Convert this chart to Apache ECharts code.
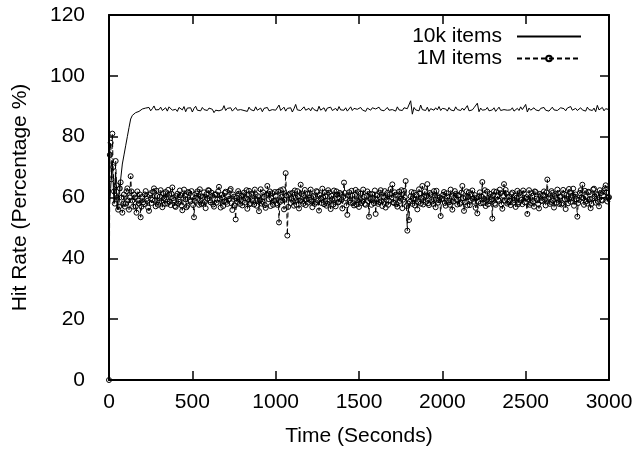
<!DOCTYPE html>
<html>
<head>
<meta charset="utf-8">
<script src="https://cdn.jsdelivr.net/npm/echarts@6/dist/echarts.min.js"></script>
<style>
  html, body { margin: 0; padding: 0; background: #fff; }
  #chart { width: 637px; height: 452px; }
</style>
</head>
<body>
<div id="chart"></div>
<script>
// sample steps, seconds
var step10k = 10;
var step1m = 5;

// 10k items hit rate, one value per 10 s, t = 0 .. 3000
var hit10k = [
  55, 63, 72, 58, 68, 56, 62, 66, 71, 74, 77, 80, 83, 85.8, 87, 87.4, 87.9, 87.6, 88.3, 88.6,
  89.1, 88.7, 89.4, 88.9, 89.6, 88.5, 89.2, 90.1, 88.8, 89.3, 88.9, 89.7, 88.6, 89.0, 89.5, 88.4, 89.8, 90.3, 88.7, 89.2,
  89.0, 88.3, 89.6, 89.1, 88.8, 89.9, 88.2, 89.4, 88.9, 89.5, 88.1, 89.3, 90.0, 88.7, 89.1, 88.5, 89.6, 88.9, 89.2, 88.6,
  89.4, 88.8, 89.0, 87.9, 88.7, 89.3, 88.5, 89.1, 88.9, 90.2, 88.6, 89.3, 88.8, 89.5, 88.4, 89.0, 89.6, 88.7, 89.2, 88.9,
  89.5, 88.6, 89.1, 88.3, 89.7, 88.9, 89.2, 88.5, 89.8, 88.7, 89.0, 89.4, 88.2, 89.3, 88.8, 89.6, 88.5, 89.1, 88.9, 89.4,
  88.7, 89.2, 90.4, 88.6, 89.0, 89.7, 88.4, 89.3, 88.9, 89.5, 88.1, 89.2, 90.6, 88.8, 89.4, 88.6, 89.1, 89.8, 88.7, 89.0,
  89.3, 88.5, 89.6, 88.9, 89.2, 88.4, 90.0, 88.7, 89.1, 89.5, 88.3, 89.4, 88.8, 89.7, 88.6, 89.0, 89.3, 88.5, 89.9, 88.8,
  89.2, 88.7, 89.5, 88.4, 89.1, 89.8, 88.6, 89.3, 88.9, 89.0, 88.5, 89.6, 88.8, 89.2, 88.3, 89.4, 89.0, 88.7, 89.5, 88.9,
  89.1, 88.6, 89.7, 88.8, 89.3, 88.5, 89.0, 89.6, 88.7, 89.2, 88.9, 89.4, 88.4, 89.8, 88.8, 89.1, 88.6, 89.5, 88.9, 89.2,
  88.7, 91.8, 87.4, 89.6, 88.8, 89.3, 88.5, 90.4, 88.9, 89.1, 88.6, 89.7, 88.3, 89.2, 89.0, 88.7, 89.5, 88.8, 89.9, 88.6,
  89.3, 88.9, 89.1, 88.4, 89.6, 88.8, 89.2, 88.5, 89.8, 88.9, 89.0, 88.6, 89.4, 88.7, 89.3, 90.2, 88.5, 89.1, 88.8, 89.5,
  88.9, 91.0, 88.2, 89.4, 88.7, 89.2, 88.9, 89.6, 88.5, 89.1, 88.8, 89.5, 88.3, 89.0, 89.7, 88.6, 89.2, 88.9, 89.4, 88.7,
  89.1, 88.8, 89.5, 88.4, 89.0, 89.3, 88.6, 89.8, 88.9, 89.2, 90.6, 88.1, 89.4, 88.7, 89.0, 89.5, 88.8, 89.1, 88.5, 89.3,
  88.9, 89.6, 88.7, 89.2, 88.4, 89.0, 89.7, 88.8, 89.3, 88.6, 89.1, 89.5, 88.9, 89.2, 88.5, 89.4, 88.8, 89.9, 88.7, 89.1,
  89.3, 88.6, 89.0, 89.5, 88.8, 89.2, 88.4, 89.7, 88.9, 89.1, 88.6, 89.4, 88.2, 90.3, 88.8, 89.0, 89.6, 88.5, 89.2, 88.7,
  88.9
];

// 1M items hit rate, one value per 5 s, t = 0 .. 3000 (rows of 200 s)
var hit1m = [
  0, 74, 78, 66, 81, 70, 62, 58, 72, 64, 60, 56, 57, 63, 65, 60, 55, 58, 61, 57,
  58, 62, 63, 59, 56, 60, 67, 62, 59, 57, 61, 60, 57, 55, 62, 59, 58, 61, 53.5, 57,
  60.2, 58.4, 57.8, 61.0, 62.1, 59.5, 58.9, 56.7, 55.6, 60.8, 61.4, 58.2, 59.2, 61.9, 63.0, 59.0, 57.1, 62.2, 60.5, 57.6,
  58.3, 60.3, 62.4, 58.8, 56.8, 61.4, 59.7, 57.9, 61.8, 60.1, 58.0, 62.5, 60.9, 58.6, 57.5, 61.2, 63.3, 59.8, 59.1, 57.2,
  56.9, 60.5, 61.2, 58.0, 58.6, 62.3, 60.7, 57.4, 55.8, 59.9, 62.6, 60.6, 59.4, 56.8, 57.3, 61.8, 61.5, 59.2, 58.8, 62.1,
  60.1, 57.5, 53.5, 58.9, 59.9, 61.3, 62.0, 59.6, 57.6, 62.7, 60.4, 57.8, 58.2, 60.2, 61.7, 58.5, 56.5, 61.1, 59.6, 62.4,
  62.3, 59.1, 58.4, 61.6, 60.6, 57.7, 57.0, 60.9, 61.1, 58.3, 59.3, 62.0, 63.5, 59.6, 56.7, 60.8, 60.0, 57.2, 58.7, 61.5,
  61.9, 58.6, 57.9, 60.4, 59.5, 62.3, 62.8, 58.1, 55.9, 61.0, 60.3, 57.4, 52.8, 59.8, 58.5, 62.1, 61.3, 57.9, 59.0, 60.6,
  57.4, 60.7, 61.6, 58.3, 59.8, 62.4, 56.3, 59.5, 62.2, 57.8, 58.1, 61.2, 60.8, 58.9, 57.7, 62.6, 61.0, 57.3, 59.2, 60.4,
  55.5, 59.1, 62.7, 58.0, 58.6, 61.7, 60.2, 57.5, 56.6, 60.9, 63.8, 61.3, 59.4, 62.0, 57.2, 59.7, 61.4, 57.6, 58.9, 61.8,
  60.5, 58.1, 57.6, 61.9, 51.8, 58.5, 62.4, 60.2, 59.0, 62.7, 56.1, 59.3, 68.0, 60.6, 47.5, 56.9, 60.8, 61.3, 58.2, 59.7,
  61.5, 58.8, 57.3, 62.3, 59.9, 57.6, 62.1, 60.4, 56.4, 59.0, 64.2, 61.1, 58.7, 57.9, 60.6, 62.5, 57.5, 59.4, 61.2, 58.3,
  59.3, 61.4, 62.6, 58.7, 56.8, 60.5, 60.1, 57.9, 58.4, 62.1, 61.8, 59.0, 55.7, 60.8, 59.7, 58.2, 62.9, 60.1, 57.8, 61.7,
  60.4, 57.3, 58.0, 62.4, 61.6, 58.9, 56.2, 60.6, 59.5, 57.7, 62.3, 59.6, 57.1, 62.0, 60.9, 58.4, 58.6, 61.5, 61.0, 59.2,
  56.4, 60.2, 64.9, 61.5, 59.8, 57.4, 54.3, 60.7, 61.7, 59.0, 58.3, 62.2, 60.6, 58.1, 57.4, 60.9, 62.5, 57.7, 59.1, 61.8,
  56.9, 59.4, 61.3, 58.2, 58.7, 62.6, 60.2, 57.9, 57.6, 60.5, 62.0, 58.8, 53.7, 61.2, 59.4, 57.6, 61.1, 59.9, 58.1, 62.3,
  54.6, 59.5, 60.7, 57.9, 58.5, 61.6, 62.4, 58.8, 57.2, 60.3, 60.0, 62.1, 56.7, 59.2, 61.5, 57.6, 59.0, 61.0, 62.8, 60.0,
  64.3, 58.4, 58.2, 61.7, 60.9, 57.8, 57.0, 60.6, 61.9, 58.9, 59.6, 62.4, 56.5, 59.3, 62.2, 60.1, 65.4, 57.2, 49.1, 58.0,
  52.6, 58.6, 60.4, 61.8, 57.9, 59.7, 61.6, 57.4, 59.3, 60.9, 56.1, 58.5, 62.7, 61.3, 58.0, 59.9, 63.8, 57.7, 60.2, 62.0,
  58.5, 60.4, 64.4, 58.1, 57.5, 61.5, 61.0, 59.2, 58.7, 57.9, 62.1, 60.7, 56.8, 62.2, 60.5, 58.3, 59.1, 60.0, 53.9, 59.4,
  59.7, 60.9, 61.8, 58.2, 57.3, 61.4, 60.3, 59.0, 58.4, 57.6, 62.6, 60.5, 56.0, 58.7, 59.9, 62.1, 61.2, 59.3, 57.7, 60.6,
  60.8, 57.9, 58.3, 61.6, 63.8, 59.8, 55.6, 58.4, 60.1, 62.0, 57.4, 60.2, 61.7, 57.5, 59.0, 61.1, 62.3, 59.6, 58.6, 60.8,
  56.6, 59.8, 54.8, 58.6, 60.4, 61.7, 58.1, 60.3, 65.1, 58.2, 59.5, 62.4, 57.2, 59.1, 61.9, 57.8, 58.8, 61.2, 60.2, 59.4,
  53.1, 60.7, 62.0, 58.0, 57.6, 61.9, 60.7, 59.3, 58.9, 62.6, 61.4, 57.7, 56.3, 60.5, 64.4, 59.0, 62.5, 61.3, 58.0, 58.5,
  60.3, 58.9, 57.5, 61.1, 61.6, 58.3, 59.2, 60.6, 56.9, 59.9, 62.2, 57.8, 58.4, 61.5, 60.9, 59.2, 57.8, 62.3, 61.3, 58.4,
  59.6, 60.1, 54.6, 59.5, 62.4, 57.6, 58.2, 61.4, 60.5, 58.7, 57.0, 62.0, 61.8, 59.6, 59.1, 57.9, 56.4, 61.2, 60.7, 59.0,
  58.8, 60.8, 62.0, 59.3, 57.4, 61.7, 65.9, 59.6, 60.0, 57.9, 58.5, 62.1, 61.5, 59.0, 56.7, 60.5, 59.9, 58.3, 62.6, 61.4,
  57.9, 60.2, 60.4, 57.7, 58.1, 62.5, 61.2, 59.4, 56.2, 60.9, 59.4, 58.1, 62.8, 61.6, 58.6, 59.8, 60.6, 62.9, 57.3, 60.3,
  61.0, 59.4, 53.7, 58.2, 59.2, 61.5, 62.4, 60.0, 64.2, 59.8, 57.6, 62.2, 60.2, 58.8, 58.0, 61.9, 61.7, 59.5, 56.5, 57.9,
  59.7, 62.6, 62.9, 60.3, 58.3, 61.1, 60.8, 58.6, 57.1, 62.4, 61.4, 59.2, 59.0, 60.7, 62.1, 63.0, 64.0, 61.6, 58.7, 59.9,
  60.1
];

var seriesNames = ['10k items', '1M items'];

function toPairs(list, step) {
	var out = [];
	for (var i = 0; i < list.length; i++) {
		out.push([i * step, list[i]]);
	}
	return out;
}

var fontName = '"Liberation Sans", Arial, sans-serif';

var baseAxis = {
	axisLine: { show: true, onZero: false, lineStyle: { color: '#000', width: 2 } },
	axisTick: { show: true, inside: true, length: 9, lineStyle: { color: '#000', width: 1.5 } },
	splitLine: { show: false }
};

var option = {
	animation: false,
	backgroundColor: '#fff',
	textStyle: { fontFamily: fontName },
	grid: { left: 109, right: 28, top: 15, bottom: 69 },
	legend: {
		orient: 'vertical',
		right: 55,
		top: 26,
		padding: 0,
		align: 'right',
		itemWidth: 64,
		itemHeight: 7,
		itemGap: 1,
		textStyle: { fontSize: 21, color: '#000', fontFamily: fontName, padding: [0, 10, 0, 0] },
		data: [
			{ name: seriesNames[0], itemStyle: { opacity: 0 } },
			{ name: seriesNames[1] }
		]
	},
	xAxis: [
		Object.assign({}, baseAxis, {
			type: 'value', min: 0, max: 3000, interval: 500,
			name: 'Time (Seconds)', nameLocation: 'middle', nameGap: 46,
			nameTextStyle: { fontSize: 21, color: '#000' },
			axisLabel: { fontSize: 21, color: '#000', margin: 12, formatter: function (v) { return String(v); } }
		}),
		Object.assign({}, baseAxis, {
			type: 'value', min: 0, max: 3000, interval: 500, position: 'top',
			axisLabel: { show: false }
		})
	],
	yAxis: [
		Object.assign({}, baseAxis, {
			type: 'value', min: 0, max: 120, interval: 20,
			name: 'Hit Rate (Percentage %)', nameLocation: 'middle', nameGap: 78,
			nameTextStyle: { fontSize: 21, color: '#000' },
			axisLabel: { fontSize: 21, color: '#000', margin: 24 }
		}),
		Object.assign({}, baseAxis, {
			type: 'value', min: 0, max: 120, interval: 20, position: 'right',
			axisLabel: { show: false }
		})
	],
	series: [
		{
			name: seriesNames[0],
			type: 'line',
			showSymbol: false,
			symbol: 'none',
			lineStyle: { color: '#000', width: 1 },
			itemStyle: { color: '#000' },
			data: toPairs(hit10k, step10k)
		},
		{
			name: seriesNames[1],
			type: 'line',
			symbol: 'circle',
			symbolSize: 5,
			lineStyle: { color: '#000', width: 1, type: [5, 3] },
			itemStyle: { color: 'rgba(255,255,255,0)', borderColor: '#000', borderWidth: 1 },
			data: toPairs(hit1m, step1m)
		}
	]
};

var chartDiv = document.getElementById('chart');
var chart = echarts.init(chartDiv);
chart.setOption(option);
</script>
</body>
</html>
